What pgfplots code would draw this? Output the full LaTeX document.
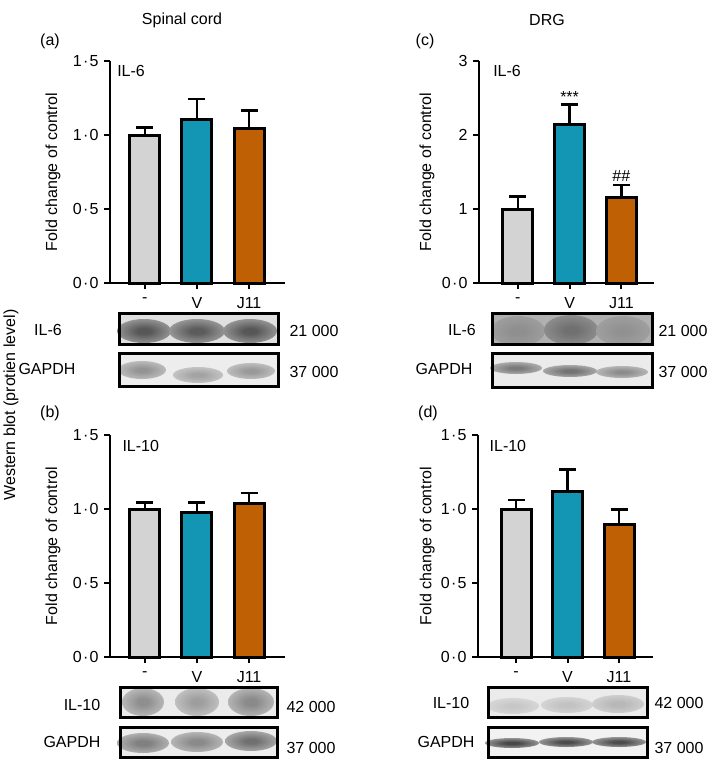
\documentclass[border=0pt]{standalone}
\usepackage{fontspec}
\setmainfont{Liberation Sans}
\usepackage{pgfplots}
\pgfplotsset{compat=1.18}

\definecolor{ctrl}{RGB}{211,211,211}
\definecolor{veh}{RGB}{18,150,180}
\definecolor{jel}{RGB}{192,96,4}
\colorlet{bandc}{black!50}
\colorlet{bgc}{black!10}

\newcommand{\fs}{\fontsize{16bp}{19bp}\selectfont}
\newcommand{\md}{\kern1.2bp·\kern1.2bp}

% soft band for the blot strips
\pgfdeclareradialshading[bandc,bgc]{band}{\pgfpoint{0bp}{0bp}}{color(0bp)=(bandc);color(6bp)=(bandc);color(50bp)=(bgc)}
\newcommand{\strip}[5]{\fill[black!#5] (#1bp,-#2bp) rectangle (#3bp,-#4bp);\colorlet{bgc}{black!#5}}
\newcommand{\stripframe}[4]{\draw[line width=3bp] (#1bp,-#2bp) rectangle (#3bp,-#4bp);}
\newcommand{\band}[5]{\colorlet{bandc}{black!#5}\shade[shading=band] (#1bp,-#2bp) ellipse (#3bp and #4bp);}

\pgfplotsset{
  panel/.style={
    scale only axis, width=175bp, height=222bp, clip=false,
    axis x line*=bottom, axis y line*=left,
    axis line style={line width=2bp, -},
    tick style={black, line width=2bp},
    major tick length=6bp, tick align=outside,
    xtick={0,1,2}, xticklabels={-,V,J11},
    ymin=0,
    ybar, bar width=30bp,
    tick label style={font=\fs},
    xticklabel style={yshift=-3bp},
    ylabel={Fold change of control},
    every axis y label/.style={font=\fs, anchor=center, rotate=90},
    every axis plot/.append style={draw=black, line width=3bp, bar shift=0pt,
      error bars/y dir=plus, error bars/y explicit,
      error bars/error bar style={line width=2.5bp, black},
      error bars/error mark options={rotate=90, mark size=8.5bp, line width=2.5bp, black}},
  },
}

\begin{document}
\begin{tikzpicture}
\useasboundingbox (0,0) rectangle (709bp,-760bp);
\fs
\node at (182bp,-20bp) {Spinal cord};
\node at (547bp,-20bp) {DRG};
\node at (50bp,-41bp) {(a)};
\node at (425bp,-41bp) {(c)};
\node at (50bp,-413bp) {(b)};
\node at (428bp,-413bp) {(d)};
\node[rotate=90] at (11bp,-405bp) {Western blot (protien level)};

% (a) spinal cord IL-6
\begin{axis}[panel, at={(110bp,-283bp)}, anchor=south west,
  xmin=-0.67, xmax=2.69, ymax=1.5,
  ytick={0,0.5,1,1.5}, yticklabels={0\md0,0\md5,1\md0,1\md5},
  ylabel style={at={(axis description cs:-0.326,0.5)}}]
\addplot[fill=ctrl] coordinates {(0,1.00) +- (0,0.052)};
\addplot[fill=veh] coordinates {(1,1.108) +- (0,0.135)};
\addplot[fill=jel] coordinates {(2,1.047) +- (0,0.12)};
\node[font=\fs, anchor=west] at (axis description cs:0.01,0.955) {IL-6};
\end{axis}

% (c) DRG IL-6
\begin{axis}[panel, at={(479bp,-283bp)}, anchor=south west,
  xmin=-0.75, xmax=2.63, ymax=3,
  ytick={0,1,2,3}, yticklabels={0\md0,1,2,3},
  ylabel style={at={(axis description cs:-0.297,0.5)}}]
\addplot[fill=ctrl] coordinates {(0,0.99) +- (0,0.18)};
\addplot[fill=veh] coordinates {(1,2.14) +- (0,0.275)};
\addplot[fill=jel] coordinates {(2,1.155) +- (0,0.17)};
\node[font=\fs, anchor=west] at (axis description cs:0.05,0.955) {IL-6};
\node[font=\fs, anchor=south, yshift=-5bp] at (axis cs:1,2.43) {***};
\node[font=\fs, anchor=south, yshift=-2bp] at (axis cs:2,1.33) {\#\#};
\end{axis}

% (b) spinal cord IL-10
\begin{axis}[panel, at={(110bp,-657bp)}, anchor=south west,
  xmin=-0.67, xmax=2.69, ymax=1.5,
  ytick={0,0.5,1,1.5}, yticklabels={0\md0,0\md5,1\md0,1\md5},
  ylabel style={at={(axis description cs:-0.326,0.5)}}]
\addplot[fill=ctrl] coordinates {(0,0.995) +- (0,0.048)};
\addplot[fill=veh] coordinates {(1,0.975) +- (0,0.068)};
\addplot[fill=jel] coordinates {(2,1.035) +- (0,0.072)};
\node[font=\fs, anchor=west] at (axis description cs:0.04,0.95) {IL-10};
\end{axis}

% (d) DRG IL-10
\begin{axis}[panel, at={(478bp,-657bp)}, anchor=south west,
  xmin=-0.74, xmax=2.66, ymax=1.5,
  ytick={0,0.5,1,1.5}, yticklabels={0\md0,0\md5,1\md0,1\md5},
  ylabel style={at={(axis description cs:-0.29,0.5)}}]
\addplot[fill=ctrl] coordinates {(0,0.995) +- (0,0.065)};
\addplot[fill=veh] coordinates {(1,1.12) +- (0,0.147)};
\addplot[fill=jel] coordinates {(2,0.895) +- (0,0.103)};
\node[font=\fs, anchor=west] at (axis description cs:0.035,0.95) {IL-10};
\end{axis}

% ---- blot strips ----
% (a)
\strip{119}{313}{278}{344}{12}
\band{144}{331}{27}{12}{66}\band{197}{331}{28}{12}{64}\band{250}{331}{27}{12}{66}
\stripframe{119}{313}{278}{344}
\strip{119}{353}{278}{386}{7}
\band{142}{370}{24}{9}{42}\band{198}{375}{25}{8}{36}\band{251}{371}{24}{8}{40}
\stripframe{119}{353}{278}{386}
\node at (48bp,-330bp) {IL-6};
\node at (47bp,-369bp) {GAPDH};
\node at (314bp,-331bp) {21 000};
\node at (314bp,-372bp) {37 000};
% (c)
\strip{492}{313}{652}{344}{31}
\band{518}{331}{27}{15}{44}\band{571}{330}{27}{15}{56}\band{623}{331}{27}{15}{43}
\stripframe{492}{313}{652}{344}
\strip{492}{353}{652}{387}{8}
\band{516}{368}{26}{6}{52}\band{570}{371}{27}{6}{55}\band{622}{372}{26}{6}{45}
\stripframe{492}{353}{652}{387}
\node at (462bp,-330bp) {IL-6};
\node at (444bp,-369bp) {GAPDH};
\node at (683bp,-331bp) {21 000};
\node at (683bp,-372bp) {37 000};
% (b)
\strip{120}{687}{277}{717}{8}
\band{143}{702}{21}{14}{44}\band{197}{702}{22}{14}{38}\band{251}{702}{23}{14}{46}
\stripframe{120}{687}{277}{717}
\strip{120}{727}{277}{757}{7}
\band{143}{743}{26}{10}{50}\band{197}{742}{26}{10}{46}\band{251}{741}{26}{10}{56}
\stripframe{120}{727}{277}{757}
\node at (82bp,-705bp) {IL-10};
\node at (72bp,-742bp) {GAPDH};
\node at (311bp,-707bp) {42 000};
\node at (311bp,-748bp) {37 000};
% (d)
\strip{488}{687}{647}{717}{8}
\band{513}{706}{26}{8}{22}\band{567}{705}{26}{8}{24}\band{618}{704}{26}{9}{28}
\stripframe{488}{687}{647}{717}
\strip{488}{727}{647}{757}{5}
\band{512}{743}{27}{5}{72}\band{566}{742}{27}{5}{70}\band{619}{742}{27}{5}{70}
\stripframe{488}{727}{647}{757}
\node at (451bp,-703bp) {IL-10};
\node at (446bp,-742bp) {GAPDH};
\node at (679bp,-703bp) {42 000};
\node at (679bp,-748bp) {37 000};
\end{tikzpicture}
\end{document}
